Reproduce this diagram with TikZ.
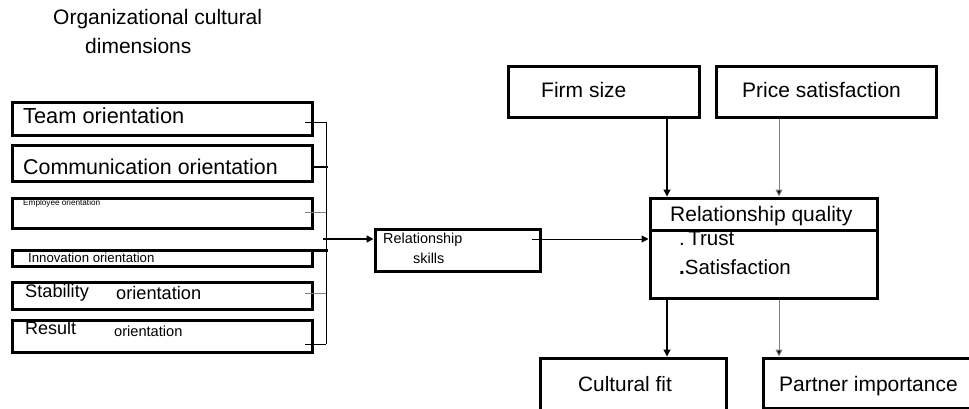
\documentclass[tikz,border=0pt]{standalone}
\usepackage{fontspec}
\setmainfont{Liberation Sans}
\usetikzlibrary{arrows.meta}
\begin{document}
\begin{tikzpicture}[x=1pt,y=-1pt,
  box/.style={draw,line width=3pt,inner sep=0pt},
  lbl/.style={anchor=west,inner sep=0pt},
  blbl/.style={anchor=base west,inner sep=0pt},
  thin/.style={line width=0.8pt},
  grayln/.style={line width=0.8pt,draw=gray},
  arr/.style={-{Triangle[width=7pt,length=7pt]}},
  garr/.style={line width=1pt,draw=gray,-{Triangle[width=7pt,length=7pt,fill=black]}},
]
\useasboundingbox (0,0) rectangle (969,409);
% title
\node[lbl,font=\fontsize{21}{24}\selectfont] (title1) at (53,19) {Organizational cultural};
\node[lbl,font=\fontsize{21}{24}\selectfont] (title2) at (85,46) {dimensions};
% left boxes
\node[box,minimum width=300pt,minimum height=33pt] (team) at (162,119.5) {};
\node[box,minimum width=300pt,minimum height=35pt] (comm) at (162,163.5) {};
\node[box,minimum width=300pt,minimum height=30pt] (empl) at (162,213) {};
\node[box,minimum width=300pt,minimum height=16pt] (innov) at (162,258) {};
\node[box,minimum width=300pt,minimum height=27pt] (stab) at (162,295.5) {};
\node[box,minimum width=300pt,minimum height=32pt] (res) at (162,336) {};
\node[lbl,font=\fontsize{21.8}{24}\selectfont] (tteam) at (23,116) {Team orientation};
\node[lbl,font=\fontsize{21.4}{24}\selectfont] (tcomm) at (23,167) {Communication orientation};
\node[lbl,font=\fontsize{8.2}{9}\selectfont] (templ) at (23,203) {Employee orientation};
\node[lbl,font=\fontsize{13.2}{15}\selectfont] (tinnov) at (28,258) {Innovation orientation};
\node[lbl,font=\fontsize{18.2}{20}\selectfont] (tstab1) at (25,293) {Stability};
\node[lbl,font=\fontsize{18.2}{20}\selectfont] (tstab2) at (116,293) {orientation};
\node[lbl,font=\fontsize{18}{20}\selectfont] (tres1) at (25,328) {Result};
\node[lbl,font=\fontsize{14.6}{16}\selectfont] (tres2) at (114,331) {orientation};
% bracket
\coordinate (btop) at (326,122);
\coordinate (bbot) at (326,344);
\coordinate (bmid) at (323,239);
\coordinate (commj) at (328,167);
\coordinate (innovj) at (328,250);
\draw[thin] (btop) -- (bbot);
\draw[thin] (305,122) -- (btop);
\draw[line width=2.4pt] (comm.east |- commj) -- (commj);
\draw[grayln] (305,212) -- (326,212);
\draw[line width=3pt] (innov.north east |- innovj) -- (innovj);
\draw[grayln] (305,293) -- (326,293);
\draw[thin] (305,344) -- (bbot);
% relationship skills
\node[box,minimum width=165pt,minimum height=42pt] (rs) at (457.5,250) {};
\node[lbl,font=\fontsize{14.4}{16}\selectfont] (trs1) at (383,240) {Relationship};
\node[lbl,font=\fontsize{14.4}{16}\selectfont] (trs2) at (413,258) {skills};
\draw[line width=1.6pt,arr] (bmid) -- (rs.west |- bmid);
% top boxes
\node[box,minimum width=191pt,minimum height=51pt] (firm) at (603.5,92.5) {};
\node[box,minimum width=220pt,minimum height=51pt] (price) at (826,92.5) {};
\node[lbl,font=\fontsize{21}{24}\selectfont] (tfirm) at (541,90) {Firm size};
\node[lbl,font=\fontsize{21}{24}\selectfont] (tprice) at (742,90) {Price satisfaction};
% relationship quality
\node[box,minimum width=227pt,minimum height=100pt] (rq) at (763.5,248) {};
\coordinate (divl) at (650,230);
\coordinate (divr) at (877,230);
\draw[line width=3pt] (divl) -- (divr);
\node[lbl,font=\fontsize{21}{24}\selectfont] (trq) at (670,216) {Relationship quality};
\node[lbl,font=\fontsize{20.5}{23}\selectfont] (ttrust) at (679,239) {.\,Trust};
\node[lbl,font=\fontsize{20.5}{23}\selectfont] (tsat) at (679,267) {\textbf{.}Satisfaction};
\coordinate (rsout) at (532,239);
\draw[line width=1pt,arr] (rsout) -- (rq.west |- rsout);
% bottom boxes
\node[box,minimum width=186pt,minimum height=52pt] (cf) at (633,384) {};
\node[box,minimum width=215pt,minimum height=50pt] (pi) at (871,383) {};
\node[blbl,font=\fontsize{20.8}{24}\selectfont] (tcf) at (578,391) {Cultural fit};
\node[blbl,font=\fontsize{21}{24}\selectfont] (tpi) at (779,391) {Partner importance};
% vertical arrows
\coordinate (xa) at (667,0);
\coordinate (xb) at (779,0);
\draw[line width=1.4pt,arr] (firm.south -| xa) -- (rq.north -| xa);
\draw[garr] (price.south -| xb) -- (rq.north -| xb);
\draw[line width=1.4pt,arr] (rq.south -| xa) -- (cf.north -| xa);
\draw[garr] (rq.south -| xb) -- (pi.north -| xb);
\end{tikzpicture}
\end{document}
